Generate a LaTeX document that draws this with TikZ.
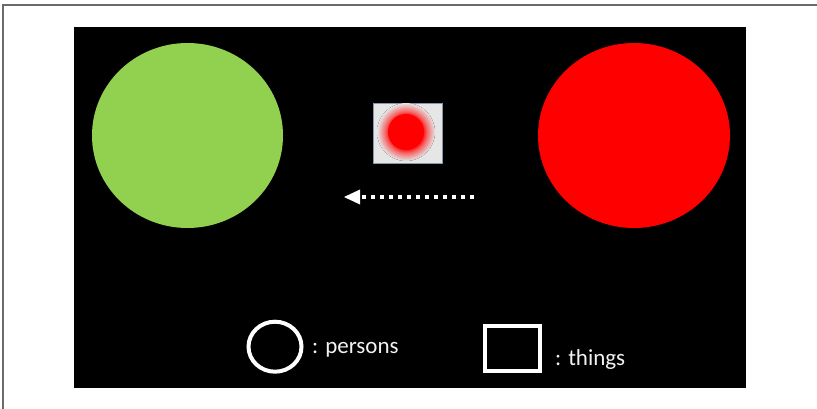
\documentclass[tikz,border=0pt]{standalone}
\usepackage{fontspec}
\setmainfont{Carlito}
\usetikzlibrary{shapes.geometric}
\definecolor{boxgray}{HTML}{E6E6E6}
\definecolor{boxedge}{HTML}{8496B0}
\definecolor{grassgreen}{HTML}{92D050}
\definecolor{framegray}{HTML}{6B6B6B}
\definecolor{txtwhite}{HTML}{F2F2F2}
\pgfdeclareradialshading{redglow}{\pgfpoint{0bp}{0bp}}{color(0bp)=(red); color(14bp)=(red); color(18bp)=(red!55!boxgray); color(25bp)=(boxgray); color(50bp)=(boxgray)}
\tikzset{
  person/.style={ellipse, minimum width=191pt, minimum height=185pt, inner sep=0pt},
  legendtext/.style={anchor=base west, text=txtwhite, font=\fontsize{23pt}{26pt}\selectfont, inner sep=0pt},
  legendline/.style={draw=white, line width=4pt},
  dotline/.style={draw=white, line width=4pt, dash pattern=on 4pt off 5pt}
}
\begin{document}
\begin{tikzpicture}[x=1pt,y=-1pt]
\useasboundingbox (0,0) rectangle (817,409);
\fill[white] (0,0) rectangle (817,409);
\draw[framegray, line width=2pt] (2.5,409) -- (2.5,5) -- (817,5);
\node[fill=black, minimum width=672pt, minimum height=361pt, inner sep=0pt, anchor=north west] (board) at (74,27) {};
\node[person, fill=grassgreen] (green) at (187.5,135.5) {};
\node[person, fill=red, minimum width=192pt] (redp) at (634,135.5) {};
\node[draw=boxedge, line width=0.8pt, fill=boxgray, minimum width=69pt, minimum height=60pt, inner sep=0pt] (thing) at (407.5,133) {};
\fill[shading=redglow] (406,132) circle[radius=29];
\node[circle, fill=red, minimum size=36pt, inner sep=0pt] (redthing) at (406,132) {};
\coordinate (arrstart) at (474,197);
\coordinate (arrend) at (362,197);
\coordinate (arrtip) at (344,197);
\draw[dotline] (arrstart) -- (arrend);
\fill[white] (arrtip) -- (360,189.5) -- (360,204.5) -- cycle;
\node[ellipse, legendline, minimum width=53pt, minimum height=50pt, inner sep=0pt] (lperson) at (275,346.7) {};
\node[legendtext] (tperson) at (312,353) {: persons};
\node[legendline, minimum width=55pt, minimum height=45pt, inner sep=0pt] (lthing) at (512.5,348.5) {};
\node[legendtext] (tthing) at (555,365) {: things};
\end{tikzpicture}
\end{document}
